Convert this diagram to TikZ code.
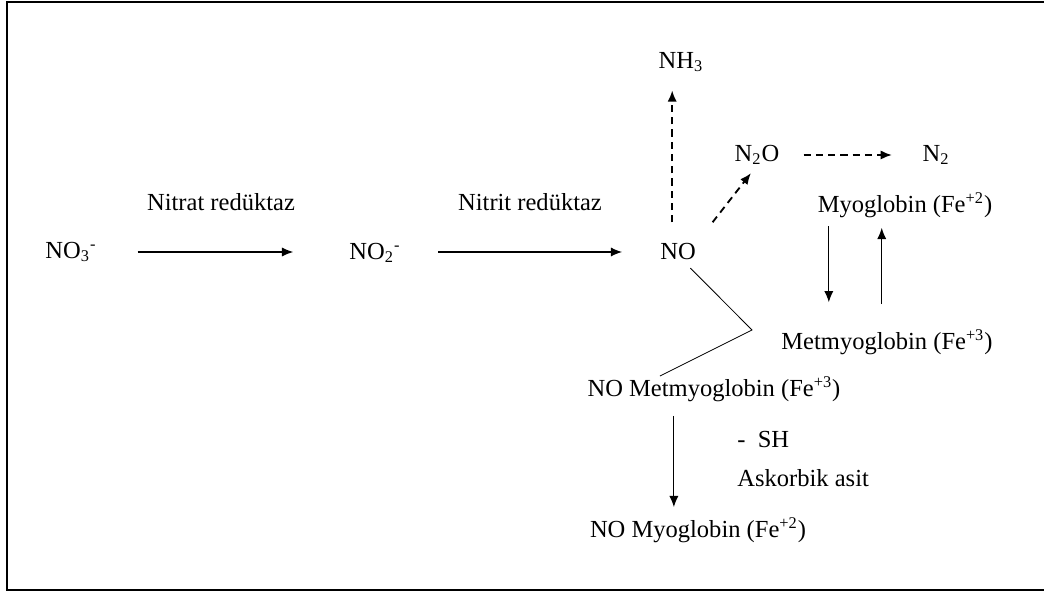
\documentclass[tikz,border=0pt]{standalone}
\usepackage{fontspec}
\setmainfont{Liberation Serif}
\usetikzlibrary{arrows.meta}
\newcommand{\ion}[3]{#1\textsubscript{#2}\textsuperscript{#3}}

\begin{document}
\begin{tikzpicture}[x=0.0172cm, y=-0.0172cm, >={Latex[length=5.5pt,width=4.5pt]},
		chem/.style={inner sep=0pt, font=\fontsize{12}{14}\selectfont},
		solidarrow/.style={->, line width=0.6pt},
		dashedarrow/.style={->, line width=0.9pt, dash pattern=on 3.5pt off 2.5pt}]
		\useasboundingbox (0,0) rectangle (1044,593);
		\draw[line width=1pt] (1050,2) -- (7,2) -- (7,590) -- (1050,590);

		\node[chem] (no3) at (71,252) {\ion{NO}{3}{-}};
		\node[chem] (no2) at (375,253) {\ion{NO}{2}{-}};
		\node[chem] (no) at (678,252) {NO};
		\node[chem] (nh3) at (681,62) {NH\textsubscript{3}};
		\node[chem] (n2o) at (757,155) {N\textsubscript{2}O};
		\node[chem] (n2) at (936,155) {N\textsubscript{2}};
		\node[chem] (mb) at (905,205) {Myoglobin (Fe\textsuperscript{+2})};
		\node[chem] (met) at (887,342) {Metmyoglobin (Fe\textsuperscript{+3})};
		\node[chem] (nomet) at (714,389) {NO Metmyoglobin (Fe\textsuperscript{+3})};
		\node[chem] (nomb) at (698,530) {NO Myoglobin (Fe\textsuperscript{+2})};
		\node[chem] (nitrat) at (221,202) {Nitrat redüktaz};
		\node[chem] (nitrit) at (530,202) {Nitrit redüktaz};
		\node[chem, anchor=west] (sh) at (737,440) {-\ \ SH};
		\node[chem, anchor=west] (askorbik) at (737,478) {Askorbik asit};
		\coordinate (bend) at (752,330);

		\draw[solidarrow, shorten <=0.7cm, shorten >=0.96cm] (no3.east) -- (no3.east -| no2.west);
		\draw[solidarrow, shorten <=0.64cm, shorten >=0.65cm] (no2.east |- no.west) -- (no.west);
		\draw[dashedarrow, shorten <=0.36cm, shorten >=0.31cm] ([xshift=-0.1cm]no.north) -- ([xshift=-0.1cm]no.north |- nh3.south);
		\draw[dashedarrow, shorten <=0.46cm, shorten >=0.17cm] (no.north east) -- (n2o.south);
		\draw[dashedarrow, shorten <=0.41cm, shorten >=0.52cm] (n2o.east) -- (n2o.east -| n2.west);
		\draw[solidarrow, shorten <=0.14cm, shorten >=0.46cm] ([xshift=-1.31cm]mb.south) -- ([xshift=-1.31cm]mb.south |- met.north);
		\draw[solidarrow, shorten <=0.43cm, shorten >=0.17cm] ([xshift=-0.4cm]mb.south |- met.north) -- ([xshift=-0.4cm]mb.south);
		\draw[shorten <=0.18cm] (no.-60) -- (bend) -- ([xshift=-0.93cm]nomet.north);
		\draw[solidarrow, shorten <=0.24cm, shorten >=0.17cm] ([xshift=-0.69cm]nomet.south) -- ([xshift=-0.69cm]nomet.south |- nomb.north);
	\end{tikzpicture}
\end{document}
